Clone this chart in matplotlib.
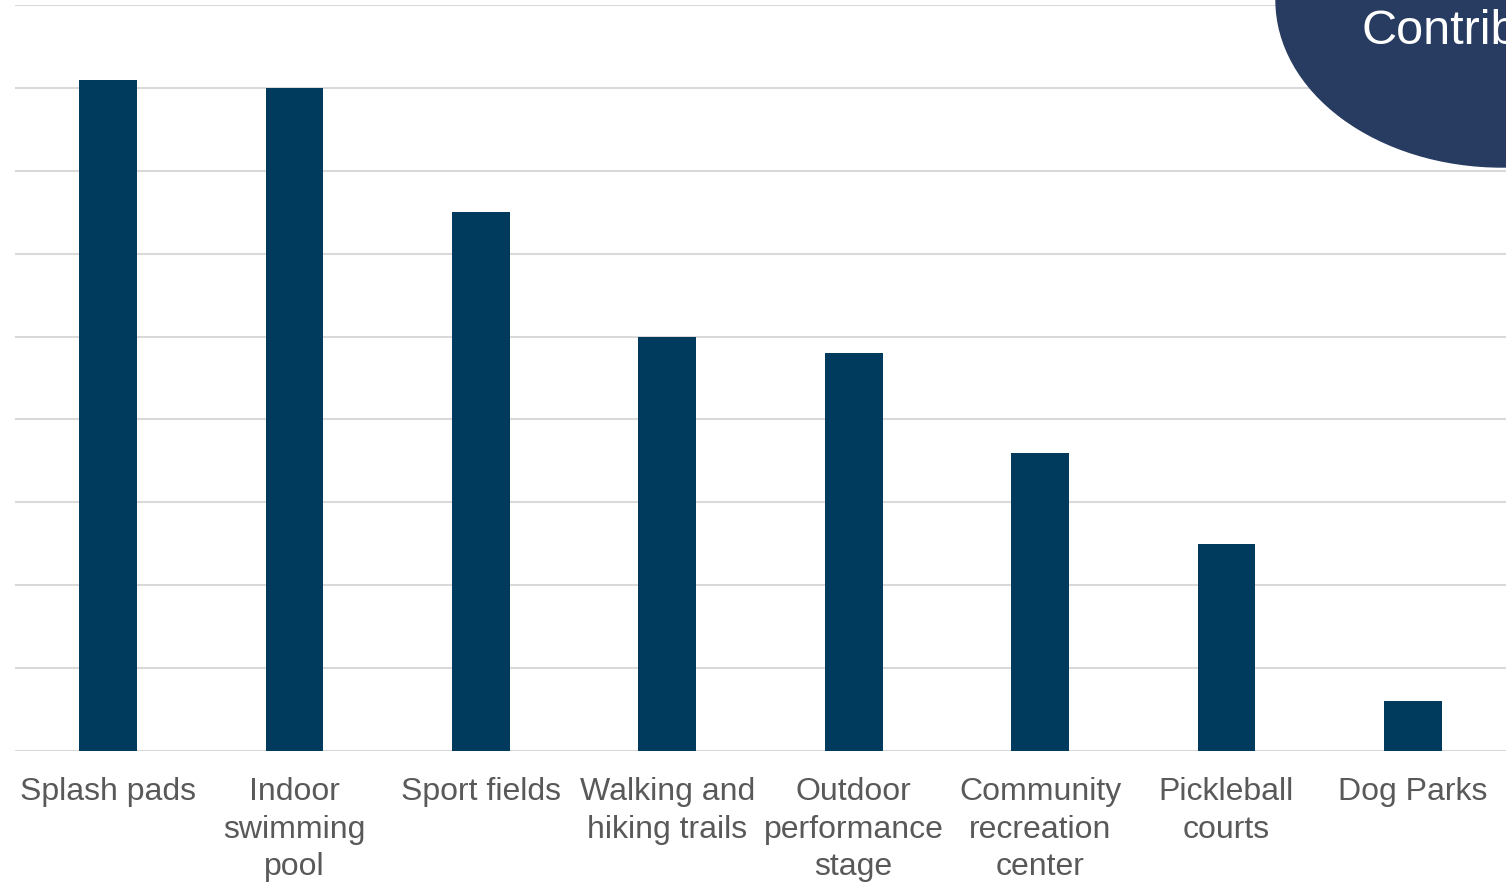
import matplotlib
matplotlib.use("Agg")
import matplotlib.pyplot as plt
from matplotlib.patches import Ellipse

categories = ["Splash pads", "Indoor\nswimming\npool", "Sport fields", "Walking and\nhiking trails",
              "Outdoor\nperformance\nstage", "Community\nrecreation\ncenter", "Pickleball\ncourts", "Dog Parks"]
values = [81, 80, 65, 50, 48, 36, 25, 6]

plt.rcParams['font.family'] = ['Liberation Sans', 'DejaVu Sans']

fig = plt.figure(figsize=(15.06, 8.82), dpi=100)
ax = fig.add_axes([15 / 1506, 131 / 882, 1 - 15 / 1506, 746 / 882])

x = list(range(len(categories)))
ax.bar(x, values, width=0.31, color="#003A5D", zorder=3)
ax.set_xlim(-0.5, len(categories) - 0.5)
ax.set_ylim(0, 90)
ax.set_yticks(range(0, 91, 10))
ax.yaxis.grid(True, color="#D9D9D9", linewidth=1.5, zorder=0)
ax.tick_params(axis="y", left=False, labelleft=False)
ax.set_xticks(x)
ax.set_xticklabels(categories, fontsize=23, color="#595959", linespacing=1.32)
ax.tick_params(axis="x", length=0, pad=19)
for s in ["top", "right", "left", "bottom"]:
    ax.spines[s].set_visible(False)

# decorative blob in the top-right corner
blob = Ellipse((1502 / 1506, 1.0), 452 / 1506, 334 / 882, transform=fig.transFigure,
               color="#283C61", zorder=10)
fig.patches.append(blob)
fig.text(1361 / 1506, 1 - 31 / 882, "Contrib", color="white", fontsize=35,
         ha="left", va="center", zorder=11)

fig.savefig("out.png", dpi=100)
